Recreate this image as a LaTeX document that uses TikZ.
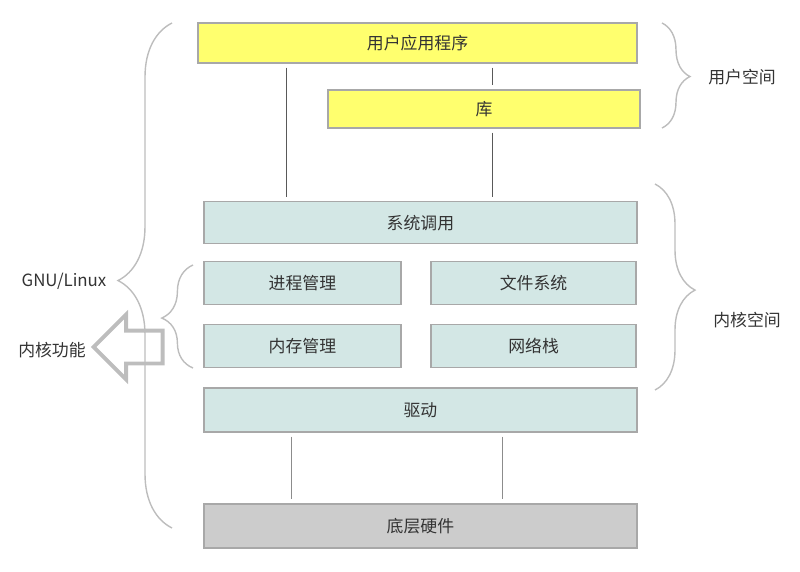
\documentclass[tikz,border=0pt]{standalone}
\usepackage{fontspec}
\setmainfont{Noto Sans CJK SC}
\usepackage{tikz}
\usetikzlibrary{decorations.pathreplacing,shapes.arrows}
\definecolor{userfill}{HTML}{FFFF6E}
\definecolor{kernfill}{HTML}{D3E7E5}
\definecolor{hwfill}{HTML}{CCCCCC}
\definecolor{boxline}{HTML}{A8A8A8}
\definecolor{bracegray}{HTML}{BDBDBD}
\definecolor{txt}{HTML}{333333}
\tikzstyle{layer} = [draw=boxline, line width=.9pt, text=txt, inner sep=0pt, font=\fontsize{12pt}{14pt}\selectfont]
\tikzstyle{userbox} = [layer, fill=userfill, minimum height=1cm]
\tikzstyle{kernbox} = [layer, fill=kernfill, minimum height=1.06cm]
\tikzstyle{link} = [draw=black!65, line width=.7pt, shorten <=.1cm, shorten >=.1cm]
\tikzstyle{curly} = [draw=bracegray, line width=1pt, decorate]
\tikzstyle{side} = [text=txt, font=\fontsize{12pt}{14pt}\selectfont]

\begin{document}
\begin{tikzpicture}
    \useasboundingbox (0,0) rectangle (20,14.275);
    % user space
    \draw (10.44,13.2) node[userbox, minimum width=10.975cm] (app) {用户应用程序};
    \draw (12.1,11.55) node[userbox, minimum width=7.8cm, minimum height=.95cm] (lib) {库};
    % kernel space
    \draw (10.51,8.71) node[kernbox, minimum width=10.825cm] (sys) {系统调用};
    \draw (7.56,7.2) node[kernbox, minimum width=4.925cm] (proc) {进程管理};
    \draw (13.34,7.2) node[kernbox, minimum width=5.125cm] (fs) {文件系统};
    \draw (7.56,5.625) node[kernbox, minimum width=4.925cm] (mem) {内存管理};
    \draw (13.34,5.625) node[kernbox, minimum width=5.125cm] (net) {网络栈};
    \draw (10.51,4.025) node[kernbox, minimum width=10.825cm, minimum height=1.1cm] (drv) {驱动};
    \draw (10.51,1.125) node[layer, fill=hwfill, minimum width=10.825cm, minimum height=1.1cm] (hw) {底层硬件};
    % links
    \coordinate (x1) at (7.15,0);
    \coordinate (x2) at (12.3,0);
    \coordinate (x3) at (7.275,0);
    \coordinate (x4) at (12.55,0);
    \draw[link] (app.south -| x1) -- (sys.north -| x1);
    \draw[link] (app.south -| x2) -- (lib.north -| x2);
    \draw[link] (lib.south -| x2) -- (sys.north -| x2);
    \draw[link, draw=black!45] (drv.south -| x3) -- (hw.north -| x3);
    \draw[link, draw=black!45] (drv.south -| x4) -- (hw.north -| x4);
    % braces
    \draw[curly, decoration={brace, amplitude=1.35cm, aspect=.49}] (4.3,1.075) -- (4.3,13.7);
    \draw[curly, decoration={brace, amplitude=.78cm, aspect=.485}] (4.825,5.075) -- (4.825,7.65);
    \draw[curly, decoration={brace, amplitude=.7cm, aspect=.51}] (16.55,13.7) -- (16.55,11.075);
    \draw[curly, decoration={brace, amplitude=1cm, aspect=.515}] (16.375,9.675) -- (16.375,4.525);
    % labels
    \draw (1.6,7.25) node[side] (gnu) {GNU/Linux};
    \draw (1.3,5.525) node[side] (func) {内核功能};
    \draw (18.55,12.35) node[side] (uspace) {用户空间};
    \draw (18.675,6.275) node[side] (kspace) {内核空间};
    \draw (2.27,5.6) node[single arrow, shape border rotate=180, anchor=tip, draw=bracegray, line width=2.8pt,
        minimum height=1.725cm, single arrow head extend=.4cm, inner xsep=0pt, inner ysep=.3625cm] (out) {};
\end{tikzpicture}
\end{document}
